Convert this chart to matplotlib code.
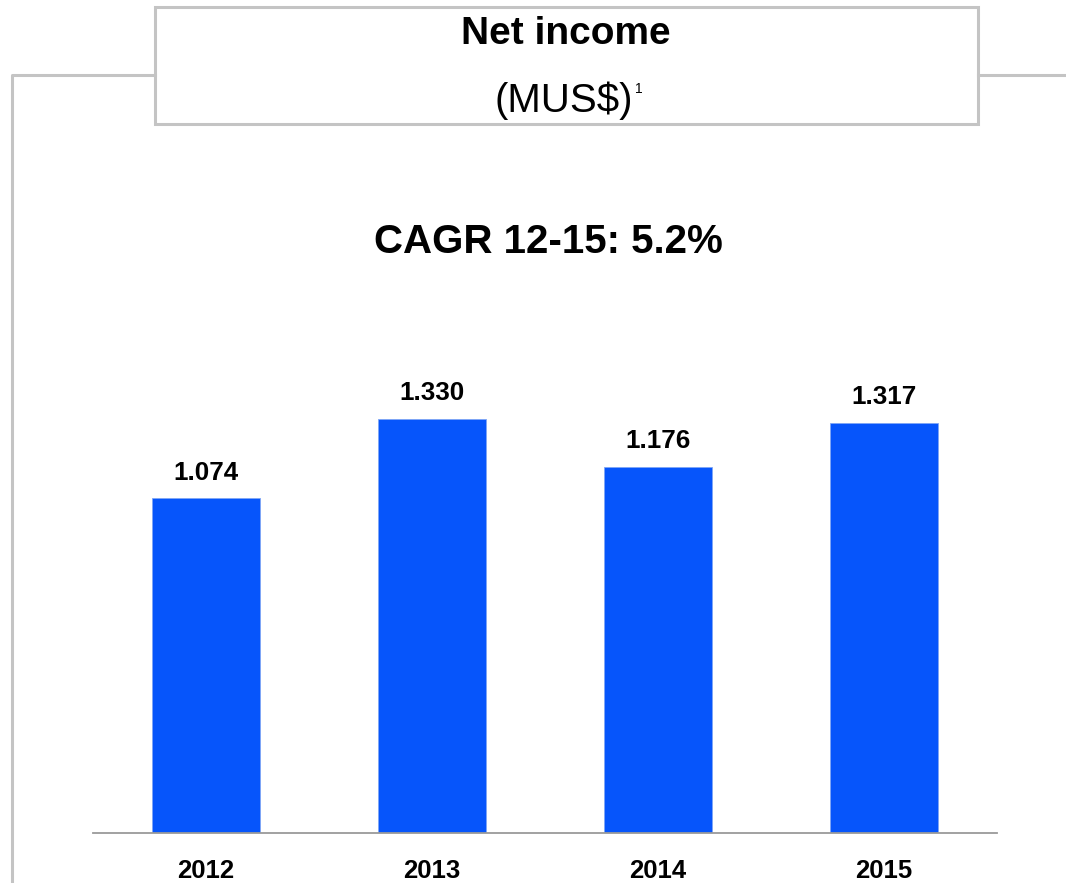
import matplotlib.pyplot as plt
from matplotlib.lines import Line2D
from matplotlib.patches import Rectangle

plt.rcParams['font.family'] = ['Liberation Sans', 'DejaVu Sans']

years = ['2012', '2013', '2014', '2015']
net_income = [1.074, 1.330, 1.176, 1.317]
value_labels = ['1.074', '1.330', '1.176', '1.317']

bar_color = '#0655fb'
frame_color = '#c4c4c4'

W, H = 1066, 883
fig = plt.figure(figsize=(W / 100, H / 100), dpi=100)


def fx(px):
    return px / W


def fy(py):
    return 1 - py / H


# outer frame: left edge plus the two stubs either side of the title box
fig.add_artist(Line2D([fx(12), fx(12), fx(155)], [fy(881), fy(75), fy(75)],
                      color=frame_color, lw=2.2, transform=fig.transFigure))
fig.add_artist(Line2D([fx(978), fx(1066)], [fy(75), fy(75)],
                      color=frame_color, lw=2.2, transform=fig.transFigure))
fig.add_artist(Rectangle((fx(155), fy(124)), fx(978) - fx(155), fy(7) - fy(124),
                         fill=False, edgecolor=frame_color, lw=2.2,
                         transform=fig.transFigure))

fig.text(fx(566), fy(34), 'Net income', ha='center', va='center',
         fontsize=28, fontweight='bold')
fig.text(fx(564), fy(101), '(MUS$)', ha='center', va='center', fontsize=29)
fig.text(fx(639), fy(89), '1', ha='center', va='center', fontsize=10)
fig.text(fx(548), fy(242), 'CAGR 12-15: 5.2%', ha='center', va='center',
         fontsize=29, fontweight='bold')

ax = fig.add_axes([fx(93), fy(833), fx(997) - fx(93), fy(180) - fy(833)])
x = range(len(years))
ax.bar(x, net_income, width=0.478, color=bar_color, edgecolor='#7fa6f5', linewidth=0.6)
for i, v in enumerate(net_income):
    ax.text(i, v + 0.083, value_labels[i], ha='center', va='center',
            fontsize=18.7, fontweight='bold')

ax.set_xlim(-0.5, 3.5)
ax.set_ylim(0, 653 / 311.5)
ax.set_xticks(list(x))
ax.set_xticklabels(years, fontsize=18.5, fontweight='bold')
ax.tick_params(axis='x', length=0, pad=27)
for lbl in ax.get_xticklabels():
    lbl.set_verticalalignment('center')
ax.set_yticks([])
for side in ['top', 'left', 'right']:
    ax.spines[side].set_visible(False)
ax.spines['bottom'].set_color('#9a9a9a')
ax.spines['bottom'].set_linewidth(1.3)
ax.patch.set_alpha(0)

fig.savefig('out.png', dpi=100)
